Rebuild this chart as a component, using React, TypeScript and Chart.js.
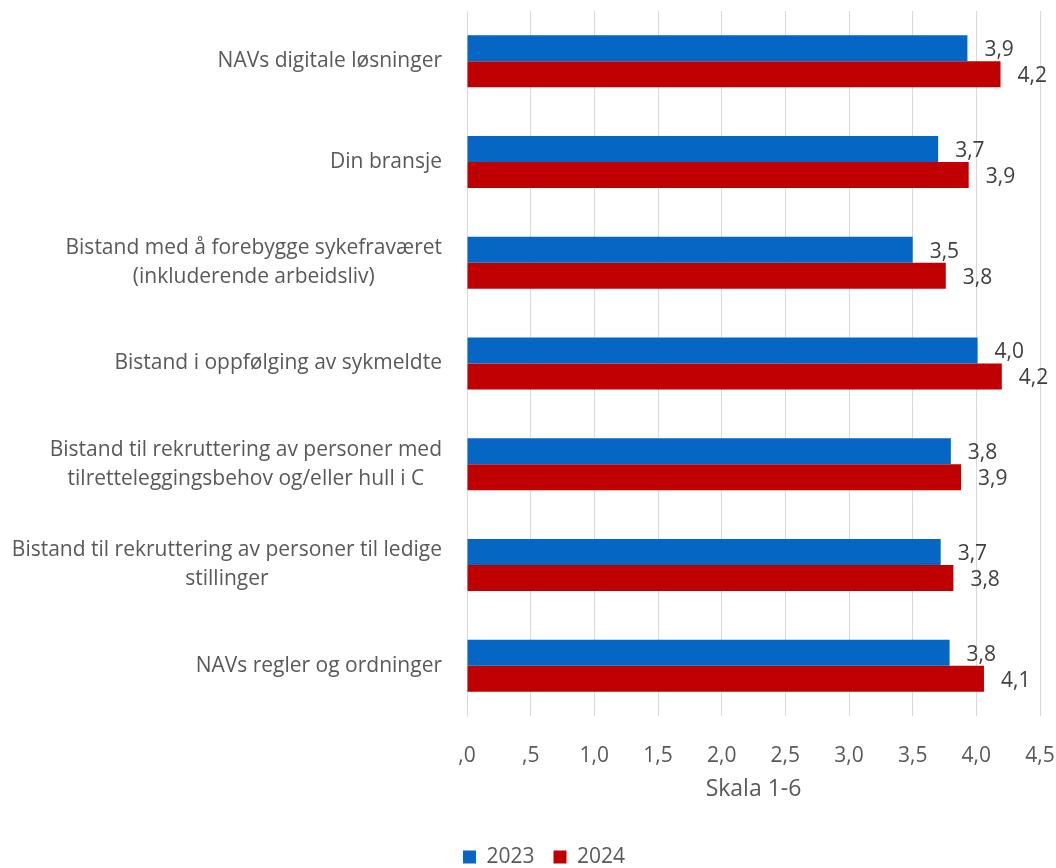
import React, { useEffect, useRef } from "react";
import { Chart, registerables } from "chart.js";

Chart.register(...registerables);

const categories: string[][] = [
  ["NAVs digitale løsninger"],
  ["Din bransje"],
  ["Bistand med å forebygge sykefraværet", "(inkluderende arbeidsliv)"],
  ["Bistand i oppfølging av sykmeldte"],
  ["Bistand til rekruttering av personer med", "tilretteleggingsbehov og/eller hull i C"],
  ["Bistand til rekruttering av personer til ledige", "stillinger"],
  ["NAVs regler og ordninger"],
];

const series2023: number[] = [3.93, 3.7, 3.5, 4.01, 3.8, 3.72, 3.79];
const series2024: number[] = [4.19, 3.94, 3.76, 4.2, 3.88, 3.82, 4.06];
const seriesNames: string[] = ["2023", "2024"];
const axisTitle = "Skala 1-6";

const FONT = "'Open Sans', sans-serif";
const TEXT = "#595959";
const LABEL = "#404040";
const GRID = "#d9d9d9";

const fmt = (v: number) => v.toFixed(1).replace(".", ",");
const fmtTick = (v: number) => v.toFixed(1).replace(".", ",").replace(/^0/, "");

const yLabelPlugin = {
  id: "yLabelPlugin",
  afterDraw(chart: any) {
    const ctx = chart.ctx;
    const y = chart.scales.y;
    const right = y.right - 25;
    ctx.save();
    ctx.font = `21px ${FONT}`;
    ctx.fillStyle = TEXT;
    ctx.textAlign = "center";
    ctx.textBaseline = "middle";
    const lh = 29;
    categories.forEach((lines, i) => {
      const cy = y.getPixelForValue(i);
      const maxW = Math.max(...lines.map((l) => ctx.measureText(l).width));
      const cx = right - maxW / 2;
      lines.forEach((line, j) => {
        ctx.fillText(line, cx, cy + (j - (lines.length - 1) / 2) * lh);
      });
    });
    ctx.restore();
  },
};

const dataLabelPlugin = {
  id: "dataLabelPlugin",
  afterDatasetsDraw(chart: any) {
    const ctx = chart.ctx;
    ctx.save();
    ctx.font = `21px ${FONT}`;
    ctx.fillStyle = LABEL;
    ctx.textAlign = "left";
    ctx.textBaseline = "middle";
    chart.data.datasets.forEach((ds: any, di: number) => {
      const meta = chart.getDatasetMeta(di);
      meta.data.forEach((el: any, i: number) => {
        ctx.fillText(fmt(ds.data[i]), el.x + 17, el.y + 2);
      });
    });
    ctx.restore();
  },
};

export default function App() {
  const ref = useRef<HTMLCanvasElement>(null);
  useEffect(() => {
    if (!ref.current) return;
    const chart = new Chart(ref.current, {
      type: "bar",
      data: {
        labels: categories.map((c) => c.join(" ")),
        datasets: [
          {
            label: seriesNames[0],
            data: series2023,
            backgroundColor: "#0566C4",
            categoryPercentage: 0.516,
            barPercentage: 1,
          },
          {
            label: seriesNames[1],
            data: series2024,
            backgroundColor: "#C00000",
            categoryPercentage: 0.516,
            barPercentage: 1,
          },
        ],
      },
      options: {
        indexAxis: "y",
        responsive: false,
        animation: false,
        layout: { padding: { top: 11, right: 16, bottom: 2.5, left: 48 } },
        plugins: {
          legend: {
            position: "bottom",
            labels: {
              font: { family: FONT, size: 21 },
              color: TEXT,
              boxWidth: 13,
              boxHeight: 13,
              padding: 19,
            },
          },
          tooltip: { enabled: false },
        },
        scales: {
          x: {
            min: 0,
            max: 4.5,
            ticks: {
              stepSize: 0.5,
              font: { family: FONT, size: 21 },
              color: TEXT,
              padding: 27,
              callback: (v: any) => fmtTick(Number(v)),
            },
            grid: { color: GRID, lineWidth: 1, drawTicks: false },
            border: { display: false },
            title: {
              display: true,
              text: axisTitle,
              font: { family: FONT, size: 23 },
              color: TEXT,
              padding: { top: 0, bottom: 24.5 },
            },
            afterFit: (s: any) => {
              s.height = 111.5;
              s.paddingLeft = 0;
              s.paddingRight = 0;
            },
          },
          y: {
            ticks: { display: false },
            grid: { display: false },
            border: { display: true, color: GRID },
            afterFit: (s: any) => {
              s.width = 419;
            },
          },
        },
      },
      plugins: [yLabelPlugin, dataLabelPlugin],
    });
    return () => chart.destroy();
  }, []);
  return (
    <div
      style={{
        position: "absolute",
        left: 0,
        top: 0,
        width: 1056,
        height: 868,
        overflow: "hidden",
        background: "#fff",
      }}
    >
      <canvas ref={ref} width={1056} height={880} style={{ display: "block" }} />
    </div>
  );
}
